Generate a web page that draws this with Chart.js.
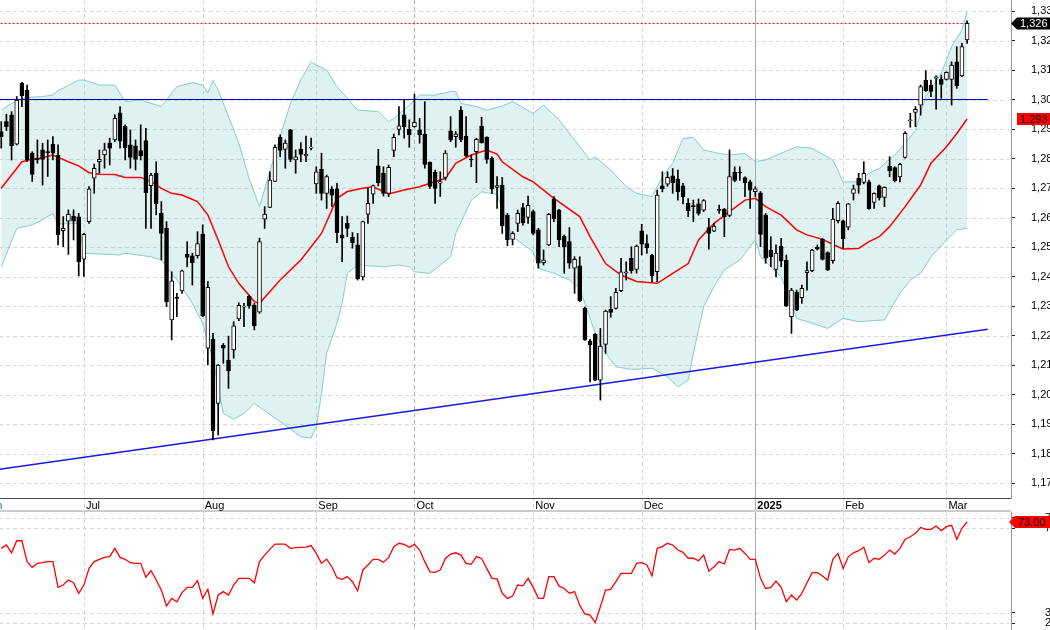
<!DOCTYPE html>
<html>
<head>
<meta charset="utf-8">
<script src="https://cdn.jsdelivr.net/npm/chart.js@4.4.0/dist/chart.umd.min.js"></script>
<style>
  html, body { margin: 0; padding: 0; background: #fff; overflow: hidden; width: 1050px; height: 630px; }
  #top { position: absolute; left: -22px; top: 0; width: 1093px; height: 512px; }
  #bot { position: absolute; left: -22px; top: 512px; width: 1093px; height: 130px; }
</style>
</head>
<body>
<div id="top"><canvas id="price"></canvas></div>
<div id="bot"><canvas id="osc"></canvas></div>
<script>
// daily candles, first visible session = k 1
const candleOpen = [
  1.2891,1.2925,1.2948,1.2849,1.3055,1.3032,1.2818,1.2800,1.2829,1.2822,
  1.2848,1.2812,1.2555,1.2588,1.2605,1.2602,1.2459,1.2586,1.2733,1.2789,
  1.2812,1.2852,1.2863,1.2955,1.2910,1.2846,1.2843,1.2827,1.2861,1.2708,
  1.2750,1.2614,1.2563,1.2253,1.2330,1.2351,1.2476,1.2470,1.2471,1.2544,
  1.2157,1.2188,1.1970,1.2167,1.2117,1.2151,1.2256,1.2296,1.2334,1.2303,
  1.2279,1.2594,1.2634,1.2722,1.2872,1.2831,1.2897,1.2795,1.2831,1.2810,
  1.2835,1.2714,1.2763,1.2682,1.2696,1.2697,1.2541,1.2580,1.2533,1.2507,
  1.2399,1.2611,1.2679,1.2775,1.2750,1.2682,1.2827,1.2899,1.2948,1.2899,
  1.2908,1.2897,1.2883,1.2787,1.2753,1.2716,1.2736,1.2894,1.2874,1.2964,
  1.2876,1.2798,1.2823,1.2910,1.2872,1.2801,1.2702,1.2710,1.2608,1.2526,
  1.2580,1.2634,1.2600,1.2620,1.2558,1.2447,1.2507,1.2663,1.2625,1.2537,
  1.2518,1.2428,1.2436,1.2292,1.2181,1.2204,1.2049,1.2170,1.2289,1.2292,
  1.2352,1.2411,1.2462,1.2424,1.2555,1.2512,1.2473,1.2416,1.2707,1.2713,
  1.2741,1.2730,1.2707,1.2648,1.2639,1.2646,1.2625,1.2566,1.2554,1.2626,
  1.2628,1.2607,1.2753,1.2753,1.2735,1.2721,1.2688,1.2684,1.2608,1.2490,
  1.2424,1.2503,1.2456,1.2264,1.2346,1.2328,1.2413,1.2420,1.2499,1.2527,
  1.2481,1.2454,1.2589,1.2589,1.2567,1.2682,1.2733,1.2719,1.2721,1.2651,
  1.2707,1.2668,1.2774,1.2769,1.2738,1.2804,1.2928,1.2956,1.2981,1.3066,
  1.3049,1.3072,1.3069,1.3068,1.3068,1.3128,1.3080,1.3202
];
const candleHigh = [
  1.2925,1.2950,1.2959,1.3010,1.3058,1.3049,1.2823,1.2863,1.2852,1.2863,
  1.2874,1.2846,1.2603,1.2626,1.2626,1.2614,1.2546,1.2705,1.2781,1.2829,
  1.2852,1.2869,1.2948,1.2976,1.2914,1.2897,1.2863,1.2914,1.2902,1.2750,
  1.2789,1.2654,1.2586,1.2416,1.2343,1.2422,1.2518,1.2479,1.2552,1.2575,
  1.2383,1.2207,1.2102,1.2173,1.2198,1.2247,1.2311,1.2309,1.2337,1.2309,
  1.2530,1.2637,1.2755,1.2846,1.2880,1.2863,1.2899,1.2829,1.2854,1.2876,
  1.2869,1.2772,1.2818,1.2744,1.2705,1.2716,1.2603,1.2605,1.2549,1.2546,
  1.2588,1.2699,1.2710,1.2831,1.2772,1.2778,1.2883,1.2976,1.2998,1.2931,
  1.3018,1.2936,1.2993,1.2789,1.2761,1.2755,1.2827,1.2942,1.2891,1.2976,
  1.2942,1.2812,1.2869,1.2940,1.2874,1.2806,1.2739,1.2736,1.2614,1.2552,
  1.2625,1.2648,1.2673,1.2625,1.2563,1.2490,1.2614,1.2671,1.2628,1.2541,
  1.2566,1.2467,1.2467,1.2296,1.2187,1.2207,1.2224,1.2286,1.2332,1.2360,
  1.2462,1.2450,1.2501,1.2507,1.2577,1.2541,1.2475,1.2693,1.2755,1.2755,
  1.2766,1.2761,1.2716,1.2664,1.2659,1.2663,1.2661,1.2597,1.2580,1.2642,
  1.2631,1.2829,1.2772,1.2772,1.2738,1.2727,1.2704,1.2688,1.2614,1.2535,
  1.2507,1.2529,1.2473,1.2360,1.2354,1.2371,1.2450,1.2492,1.2507,1.2529,
  1.2484,1.2631,1.2654,1.2591,1.2648,1.2710,1.2750,1.2789,1.2727,1.2684,
  1.2710,1.2704,1.2806,1.2772,1.2784,1.2891,1.2953,1.2976,1.3049,1.3098,
  1.3066,1.3080,1.3083,1.3094,1.3128,1.3179,1.3190,1.3267
];
const candleLow = [
  1.2835,1.2895,1.2795,1.2846,1.2976,1.2790,1.2722,1.2784,1.2710,1.2739,
  1.2795,1.2507,1.2501,1.2475,1.2524,1.2402,1.2400,1.2580,1.2682,1.2750,
  1.2767,1.2778,1.2857,1.2835,1.2795,1.2767,1.2761,1.2795,1.2563,1.2563,
  1.2609,1.2456,1.2298,1.2185,1.2264,1.2343,1.2433,1.2371,1.2462,1.2264,
  1.2100,1.1846,1.1863,1.2106,1.2021,1.2123,1.2250,1.2230,1.2292,1.2219,
  1.2275,1.2563,1.2634,1.2722,1.2806,1.2767,1.2789,1.2750,1.2789,1.2789,
  1.2829,1.2682,1.2659,1.2631,1.2637,1.2515,1.2450,1.2535,1.2496,1.2388,
  1.2388,1.2580,1.2648,1.2707,1.2673,1.2671,1.2806,1.2880,1.2869,1.2838,
  1.2906,1.2852,1.2767,1.2699,1.2648,1.2671,1.2727,1.2857,1.2838,1.2857,
  1.2806,1.2772,1.2718,1.2852,1.2784,1.2682,1.2631,1.2546,1.2504,1.2507,
  1.2552,1.2574,1.2580,1.2541,1.2428,1.2439,1.2504,1.2586,1.2501,1.2411,
  1.2428,1.2343,1.2315,1.2183,1.2043,1.2047,1.1981,1.2139,1.2262,1.2289,
  1.2349,1.2388,1.2411,1.2411,1.2473,1.2478,1.2382,1.2382,1.2687,1.2706,
  1.2682,1.2659,1.2646,1.2603,1.2586,1.2608,1.2620,1.2493,1.2552,1.2614,
  1.2535,1.2603,1.2721,1.2726,1.2671,1.2631,1.2671,1.2501,1.2445,1.2433,
  1.2399,1.2433,1.2298,1.2207,1.2284,1.2309,1.2354,1.2416,1.2490,1.2456,
  1.2420,1.2445,1.2582,1.2495,1.2558,1.2659,1.2682,1.2714,1.2628,1.2631,
  1.2659,1.2637,1.2738,1.2721,1.2721,1.2801,1.2906,1.2908,1.2947,1.3027,
  1.3010,1.2967,1.3004,1.3066,1.2981,1.3038,1.3077,1.3190
];
const candleClose = [
  1.2874,1.2908,1.2843,1.2998,1.3013,1.2795,1.2746,1.2796,1.2797,1.2820,
  1.2818,1.2541,1.2563,1.2611,1.2588,1.2450,1.2543,1.2696,1.2767,1.2797,
  1.2829,1.2835,1.2936,1.2859,1.2837,1.2804,1.2797,1.2809,1.2684,1.2744,
  1.2646,1.2546,1.2315,1.2385,1.2326,1.2419,1.2465,1.2447,1.2512,1.2266,
  1.2363,1.1877,1.2100,1.2157,1.2081,1.2233,1.2302,1.2300,1.2301,1.2233,
  1.2518,1.2612,1.2727,1.2838,1.2827,1.2852,1.2797,1.2806,1.2814,1.2814,
  1.2838,1.2755,1.2682,1.2739,1.2676,1.2549,1.2530,1.2563,1.2515,1.2392,
  1.2586,1.2648,1.2708,1.2718,1.2682,1.2770,1.2872,1.2911,1.2908,1.2880,
  1.2923,1.2880,1.2780,1.2705,1.2699,1.2722,1.2818,1.2863,1.2883,1.2863,
  1.2810,1.2795,1.2865,1.2854,1.2797,1.2697,1.2708,1.2572,1.2524,1.2546,
  1.2614,1.2582,1.2641,1.2546,1.2445,1.2456,1.2611,1.2595,1.2524,1.2501,
  1.2445,1.2458,1.2318,1.2185,1.2168,1.2049,1.2164,1.2283,1.2278,1.2346,
  1.2416,1.2416,1.2420,1.2503,1.2510,1.2498,1.2402,1.2676,1.2698,1.2736,
  1.2718,1.2687,1.2671,1.2623,1.2637,1.2614,1.2657,1.2546,1.2571,1.2624,
  1.2603,1.2739,1.2726,1.2751,1.2718,1.2693,1.2697,1.2543,1.2462,1.2467,
  1.2479,1.2453,1.2300,1.2354,1.2286,1.2360,1.2420,1.2490,1.2493,1.2458,
  1.2422,1.2595,1.2648,1.2527,1.2646,1.2697,1.2710,1.2750,1.2629,1.2682,
  1.2667,1.2702,1.2759,1.2725,1.2780,1.2885,1.2930,1.2967,1.3044,1.3030,
  1.3027,1.3077,1.3051,1.3092,1.3117,1.3046,1.3179,1.3258
];

// [k, value]
const bandUpper = [[1,1.2964],[2,1.2976],[4,1.2996],[6,1.3007],[9,1.3010],[11,1.3015],[12,1.3030],[16,1.3066],[17,1.3066],[20,1.3049],[23,1.3049],[25,1.2993],[28,1.2998],[32,1.2976],[35,1.3044],[38,1.3057],[40,1.3049],[41,1.3023],[42,1.3064],[43,1.3032],[45,1.2942],[47,1.2852],[49,1.2732],[51,1.2637],[55,1.2874],[57,1.2987],[59,1.3066],[61,1.3128],[62,1.3117],[64,1.3100],[66,1.3044],[70,1.2964],[74,1.2959],[76,1.2925],[77,1.2936],[80,1.2981],[82,1.3015],[85,1.3015],[88,1.3027],[89,1.3027],[90,1.2987],[93,1.2976],[95,1.2964],[98,1.2978],[100,1.2993],[104,1.2953],[106,1.2981],[109,1.2931],[112,1.2863],[115,1.2795],[116,1.2806],[119,1.2761],[122,1.2705],[124,1.2682],[127,1.2671],[129,1.2739],[131,1.2784],[133,1.2868],[135,1.2872],[137,1.2829],[140,1.2817],[142,1.2812],[145,1.2817],[147,1.2790],[149,1.2795],[152,1.2818],[155,1.2840],[158,1.2835],[162,1.2795],[164,1.2721],[167,1.2721],[169,1.2750],[171,1.2767],[174,1.2812],[176,1.2851],[178,1.2896],[180,1.3010],[183,1.3089],[185,1.3179],[187,1.3236],[188,1.3298]];
const bandLower = [[1,1.2433],[4,1.2563],[7,1.2575],[9,1.2592],[11,1.2614],[12,1.2578],[16,1.2580],[17,1.2479],[24,1.2473],[25,1.2479],[30,1.2467],[32,1.2456],[35,1.2388],[38,1.2309],[40,1.2241],[42,1.2117],[44,1.1936],[46,1.1916],[48,1.1936],[50,1.1970],[55,1.1908],[59,1.1857],[61,1.1852],[62,1.1891],[63,1.2004],[64,1.2140],[66,1.2241],[67,1.2309],[68,1.2411],[70,1.2439],[75,1.2433],[78,1.2439],[80,1.2433],[81,1.2416],[84,1.2411],[88,1.2467],[89,1.2546],[92,1.2659],[94,1.2687],[97,1.2678],[100,1.2535],[104,1.2484],[105,1.2428],[108,1.2411],[111,1.2388],[113,1.2360],[114,1.2309],[116,1.2207],[118,1.2140],[120,1.2094],[123,1.2085],[127,1.2089],[130,1.2060],[132,1.2026],[134,1.2049],[135,1.2140],[137,1.2298],[139,1.2366],[141,1.2422],[144,1.2456],[147,1.2525],[148,1.2467],[152,1.2399],[155,1.2258],[159,1.2236],[161,1.2224],[164,1.2258],[167,1.2247],[172,1.2253],[175,1.2343],[177,1.2388],[179,1.2411],[181,1.2467],[184,1.2524],[186,1.2558],[188,1.2563]];
const smaLine = [[1,1.2699],[3,1.2744],[5,1.2789],[7,1.2797],[9,1.2803],[11,1.2812],[12,1.2804],[14,1.2789],[16,1.2775],[18,1.2752],[20,1.2747],[23,1.2746],[25,1.2736],[28,1.2736],[30,1.2722],[32,1.2699],[34,1.2682],[36,1.2676],[39,1.2654],[41,1.2609],[43,1.2524],[45,1.2433],[47,1.2377],[50,1.2315],[51,1.2309],[55,1.2388],[59,1.2456],[61,1.2501],[63,1.2546],[65,1.2625],[66,1.2665],[68,1.2688],[71,1.2699],[73,1.2704],[76,1.2680],[79,1.2693],[82,1.2704],[84,1.2716],[87,1.2733],[89,1.2784],[92,1.2812],[95,1.2829],[97,1.2815],[98,1.2789],[102,1.2738],[104,1.2721],[108,1.2665],[113,1.2603],[115,1.2535],[118,1.2444],[121,1.2405],[124,1.2383],[128,1.2377],[131,1.2411],[134,1.2444],[136,1.2524],[139,1.2580],[142,1.2620],[145,1.2659],[147,1.2665],[149,1.2637],[152,1.2608],[155,1.2558],[157,1.2541],[160,1.2526],[163,1.2501],[164,1.2493],[167,1.2495],[169,1.2518],[171,1.2535],[173,1.2569],[176,1.2637],[179,1.2710],[181,1.2784],[184,1.2840],[186,1.2885],[188,1.2934]];
const trendLine = [[0,1.1745],[192,1.2221]];
const levelLine = [[-3,1.3000],[192,1.3000]];
const lastCloseLine = [[-3,1.3258],[188,1.3258]];

const oscValues = [
  60.5,62.1,58.4,64.1,64.1,54.2,51.5,53.4,53.7,54.2,
  54.2,42.0,43.1,45.5,44.2,39.2,43.1,51.0,54.2,55.3,
  56.2,56.6,60.5,56.2,55.3,53.7,53.4,53.4,46.8,49.9,
  45.5,40.7,33.2,36.8,35.2,39.5,42.0,42.0,45.2,36.8,
  41.1,29.4,38.4,40.0,38.4,43.1,46.3,46.3,46.3,44.2,
  54.2,57.3,60.0,62.5,62.5,62.5,60.5,60.8,61.0,61.1,
  61.8,58.1,53.4,55.4,51.8,46.6,45.8,47.1,44.7,40.4,
  50.2,52.6,55.3,55.3,53.9,56.1,61.3,62.9,62.4,61.0,
  62.4,59.7,54.2,49.4,49.1,50.2,55.7,57.8,58.4,57.3,
  53.4,52.9,56.6,55.7,51.0,46.3,46.0,39.2,36.8,37.9,
  43.1,42.7,46.3,42.0,36.8,36.8,47.1,47.1,42.6,41.5,
  39.2,40.0,33.6,29.4,28.9,25.3,32.8,40.7,41.1,44.7,
  48.6,48.6,48.6,53.4,53.7,52.6,47.4,60.5,61.3,62.9,
  62.1,59.7,58.6,55.8,55.8,54.6,57.3,49.7,51.8,54.2,
  53.1,60.0,59.7,60.5,58.1,55.3,55.3,46.3,41.5,42.0,
  45.0,42.0,35.2,38.4,36.0,39.2,44.2,49.0,49.0,47.4,
  45.5,55.3,58.1,51.0,56.5,58.4,59.4,61.0,53.7,55.8,
  55.3,57.3,59.7,57.8,60.5,64.8,66.0,67.6,70.4,69.5,
  69.5,71.1,68.9,70.8,71.4,64.8,70.0,73.0
];

const monthNames = ['Jun', 'Jul', 'Aug', 'Sep', 'Oct', 'Nov', 'Dec', '2025', 'Feb', 'Mar'];
const monthK = [-3, 17, 40, 62, 81, 104, 125, 147, 164, 184];
const priceTicks = [1.17,1.18,1.19,1.20,1.21,1.22,1.23,1.24,1.25,1.26,1.27,1.28,1.29,1.30,1.31,1.32,1.33];
const oscTicks = [25, 30, 70, 75];

const SLOTS = 200, LEAD = 4;
const labels = Array.from({length: SLOTS}, (_, j) => String(j));
const slot = k => k - 1 + LEAD;
const full = arr => { const out = new Array(SLOTS).fill(null); arr.forEach((v, i) => out[slot(i + 1)] = v); return out; };
const sparse = pairs => { const out = new Array(SLOTS).fill(null); pairs.forEach(([k, v]) => out[slot(k)] = v); return out; };

const bodies = full(candleOpen.map((o, i) => [Math.min(o, candleClose[i]), Math.max(o, candleClose[i])]));
const wicks = full(candleLow.map((l, i) => [l, candleHigh[i]]));
const upFlag = full(candleOpen.map((o, i) => candleClose[i] > o));

Chart.defaults.font.family = '"Liberation Sans", Arial, sans-serif';
Chart.defaults.font.size = 11;
Chart.defaults.color = '#000';

const fmtPrice = v => v.toFixed(3).replace('.', ',');

function monthLines(chart, yTop, yBot) {
  const {ctx, scales: {x}} = chart;
  monthK.forEach((k, i) => {
    const px = Math.round(x.getPixelForValue(slot(k))) + 0.5;
    const name = monthNames[i];
    ctx.save();
    if (name === '2025') { ctx.strokeStyle = '#a6a6a6'; ctx.setLineDash([]); }
    else if (name === 'Oct') { ctx.strokeStyle = '#b4b4b4'; ctx.setLineDash([4, 3]); }
    else { ctx.strokeStyle = '#d6d6d6'; ctx.setLineDash([4, 3]); }
    ctx.lineWidth = 1;
    ctx.beginPath(); ctx.moveTo(px, yTop); ctx.lineTo(px, yBot); ctx.stroke();
    ctx.restore();
  });
}

function hLines(chart, values) {
  const {ctx, chartArea: a, scales: {y}} = chart;
  ctx.save();
  ctx.strokeStyle = '#d9d9d9'; ctx.lineWidth = 1; ctx.setLineDash([4, 3]);
  values.forEach(v => {
    const py = Math.round(y.getPixelForValue(v)) + 0.5;
    ctx.beginPath(); ctx.moveTo(a.left, py); ctx.lineTo(a.right - 2, py); ctx.stroke();
  });
  ctx.restore();
}

function badge(ctx, x0, yc, text, fill, color, arrow) {
  ctx.save();
  ctx.fillStyle = fill;
  ctx.beginPath();
  if (arrow) {
    ctx.moveTo(x0, yc); ctx.lineTo(x0 + 6, yc - 6); ctx.lineTo(x0 + 80, yc - 6);
    ctx.lineTo(x0 + 80, yc + 6); ctx.lineTo(x0 + 6, yc + 6);
  } else {
    ctx.rect(x0 + 6, yc - 6, 80, 12);
  }
  ctx.closePath(); ctx.fill();
  ctx.fillStyle = color; ctx.textBaseline = 'middle'; ctx.textAlign = 'left';
  ctx.font = '11px "Liberation Sans", Arial, sans-serif';
  ctx.fillText(text, x0 + 9, yc + 0.5);
  ctx.restore();
}

const priceDecor = {
  id: 'priceDecor',
  beforeDatasetsDraw(chart) {
    hLines(chart, priceTicks);
    monthLines(chart, chart.chartArea.top, chart.height);
  },
  afterDraw(chart) {
    const {ctx, chartArea: a, scales: {x, y}} = chart;
    ctx.save();
    ctx.fillStyle = '#4a4a4a'; ctx.fillRect(a.left, a.bottom, a.right - a.left, 1);
    ctx.fillStyle = '#cccccc'; ctx.fillRect(a.left, chart.height - 2, a.right - a.left, 2);
    ctx.textBaseline = 'middle'; ctx.textAlign = 'left';
    monthK.forEach((k, i) => {
      const px = x.getPixelForValue(slot(k));
      const name = monthNames[i];
      ctx.font = (name === '2025' ? 'bold ' : '') + '11px "Liberation Sans", Arial, sans-serif';
      ctx.fillStyle = name === 'Jun' ? '#1f5fbf' : '#000';
      ctx.fillText(name, px + (name === 'Jun' ? 4 : 2), a.bottom + 7.5);
    });
    ctx.restore();
    const last = candleClose[candleClose.length - 1];
    const lastSma = smaLine[smaLine.length - 1][1];
    badge(ctx, a.right, y.getPixelForValue(lastSma), fmtPrice(lastSma), '#ff0000', '#000', false);
    badge(ctx, a.right, y.getPixelForValue(last), fmtPrice(last), '#000', '#fff', true);
  }
};

const oscDecor = {
  id: 'oscDecor',
  beforeDatasetsDraw(chart) {
    hLines(chart, oscTicks);
    monthLines(chart, 0, chart.height);
  },
  afterDraw(chart) {
    const {ctx, chartArea: a, scales: {y}} = chart;
    const last = oscValues[oscValues.length - 1];
    badge(ctx, a.right - 2, y.getPixelForValue(last), last.toFixed(2), '#ff0000', '#000', true);
  }
};

const xScale = h => ({
  type: 'category', offset: true,
  grid: { display: false }, border: { display: false }, ticks: { display: false },
  afterFit: s => { s.height = h; s.paddingLeft = 0; s.paddingRight = 0; }
});
const yScale = (min, max, ticks, fmt, pad) => ({
  position: 'right', min, max,
  afterBuildTicks: s => { s.ticks = ticks.map(v => ({ value: v })); },
  afterFit: s => { s.width = 60; s.paddingTop = 0; s.paddingBottom = 0; },
  grid: { drawOnChartArea: false, drawTicks: true, tickLength: 4, tickColor: '#222' },
  border: { display: true, color: '#9a9a9a' },
  ticks: { padding: pad, color: '#000', callback: fmt }
});

new Chart(document.getElementById('price'), {
  type: 'bar',
  data: {
    labels,
    datasets: [
      { type: 'line', data: sparse(bandUpper), borderColor: '#86cccc', borderWidth: 1, pointRadius: 0, spanGaps: true, fill: false, order: 6 },
      { type: 'line', data: sparse(bandLower), borderColor: '#86cccc', borderWidth: 1, pointRadius: 0, spanGaps: true,
        fill: 0, backgroundColor: 'rgba(120,196,196,0.24)', order: 6 },
      { type: 'line', data: sparse(levelLine), borderColor: '#0000d0', borderWidth: 1.2, pointRadius: 0, spanGaps: true, order: 4 },
      { type: 'line', data: sparse(trendLine), borderColor: '#1a1ae6', borderWidth: 1.6, pointRadius: 0, spanGaps: true, order: 4 },
      { type: 'line', data: sparse(lastCloseLine), borderColor: '#e00000', borderWidth: 1, borderDash: [2, 2], pointRadius: 0, spanGaps: true, order: 4 },
      { type: 'line', data: sparse(smaLine), borderColor: '#ff0000', borderWidth: 1.5, pointRadius: 0, spanGaps: true, order: 3 },
      { data: wicks, backgroundColor: '#000', borderWidth: 0, barThickness: 1, grouped: false, order: 2 },
      { data: bodies, grouped: false, barThickness: 4, minBarLength: 1, borderWidth: 1, borderSkipped: false,
        borderColor: '#000', backgroundColor: ctx => upFlag[ctx.dataIndex] ? '#ffffff' : '#000000', order: 1 }
    ]
  },
  options: {
    responsive: true, maintainAspectRatio: false, animation: false, devicePixelRatio: 1,
    layout: { padding: 0 },
    plugins: { legend: { display: false }, tooltip: { enabled: false } },
    scales: {
      x: xScale(14),
      y: yScale(1.16492, 1.33373, priceTicks, v => fmtPrice(v), 16)
    }
  },
  plugins: [priceDecor]
});

new Chart(document.getElementById('osc'), {
  type: 'line',
  data: {
    labels,
    datasets: [
      { data: full(oscValues), borderColor: '#ff0000', borderWidth: 1.3, pointRadius: 0, spanGaps: false, fill: false }
    ]
  },
  options: {
    responsive: true, maintainAspectRatio: false, animation: false, devicePixelRatio: 1,
    layout: { padding: 0 },
    plugins: { legend: { display: false }, tooltip: { enabled: false } },
    scales: {
      x: Object.assign(xScale(0), { display: false }),
      y: yScale(16.12, 77.73, oscTicks, v => v.toFixed(3), 30)
    }
  },
  plugins: [oscDecor]
});
</script>
</body>
</html>
